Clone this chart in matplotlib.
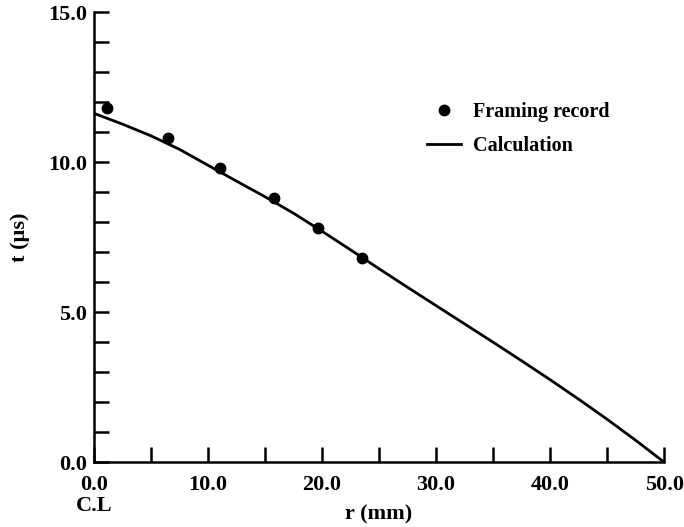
import matplotlib
matplotlib.use("Agg")
import matplotlib.pyplot as plt
from matplotlib.ticker import MultipleLocator, FormatStrFormatter

# framing record (measured points)
r_rec = [1.2, 6.5, 11.1, 15.8, 19.7, 23.5]
t_rec = [11.8, 10.8, 9.8, 8.8, 7.8, 6.8]

# calculation curve
r_calc = [0, 2.5, 5, 7.5, 10, 12.5, 15, 17.5, 20, 22.5, 25,
          27.5, 30, 32.5, 35, 37.5, 40, 42.5, 45, 47.5, 50]
t_calc = [11.63, 11.27, 10.88, 10.43, 9.9, 9.37, 8.85, 8.3, 7.7, 7.08, 6.45,
          5.83, 5.22, 4.61, 4.0, 3.38, 2.75, 2.1, 1.43, 0.73, 0.0]

plt.rcParams["font.family"] = ["Liberation Serif", "DejaVu Serif"]
plt.rcParams["font.weight"] = "bold"
plt.rcParams["font.size"] = 16

fig = plt.figure(figsize=(6.84, 5.27), dpi=100)
ax = fig.add_axes([0.137, 0.123, 0.834, 0.854])

ax.plot(r_calc, t_calc, "-", color="black", lw=2, label="Calculation")
ax.plot(r_rec, t_rec, "o", color="black", ms=7.5, label="Framing record")

ax.set_xlim(0, 50)
ax.set_ylim(0, 15)
for s in ("top", "right"):
    ax.spines[s].set_visible(False)
for s in ("left", "bottom"):
    ax.spines[s].set_linewidth(1.8)

ax.xaxis.set_major_locator(MultipleLocator(10))
ax.xaxis.set_minor_locator(MultipleLocator(5))
ax.yaxis.set_major_locator(MultipleLocator(5))
ax.yaxis.set_minor_locator(MultipleLocator(1))
ax.xaxis.set_major_formatter(FormatStrFormatter("%.1f"))
ax.yaxis.set_major_formatter(FormatStrFormatter("%.1f"))
ax.tick_params(which="both", direction="in", length=11, width=1.8)
ax.tick_params(axis="x", which="major", pad=9)
ax.tick_params(axis="y", which="major", pad=5)

ax.set_xlabel("r (mm)", fontweight="bold")
ax.set_ylabel("t (µs)", fontweight="bold")
ax.xaxis.set_label_coords(0.5, -0.094)
ax.yaxis.set_label_coords(-0.112, 0.5)
ax.text(0, -0.097, "C.L", transform=ax.get_xaxis_transform(), ha="center", va="center",
        fontweight="bold")

h, l = ax.get_legend_handles_labels()
ax.legend(h[::-1], l[::-1], loc="upper left", bbox_to_anchor=(0.624, 0.806),
          bbox_transform=fig.transFigure, frameon=False, borderpad=0, borderaxespad=0,
          handlelength=1.7, handletextpad=0.6, labelspacing=0.7, numpoints=1,
          fontsize=14.5)

fig.savefig("out.png", dpi=100)
